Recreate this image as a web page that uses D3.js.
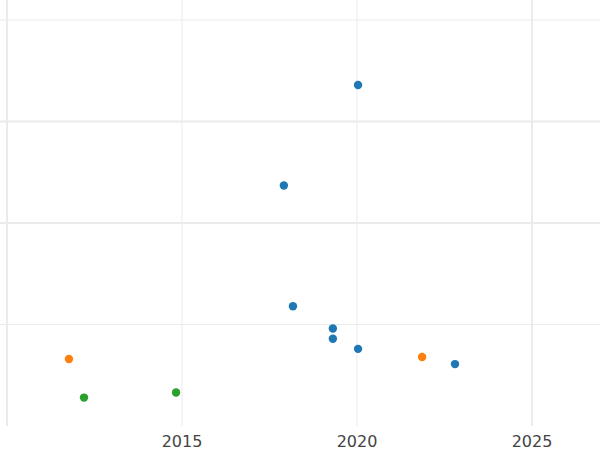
<!DOCTYPE html>
<html><head><meta charset="utf-8">
<script src="https://cdn.jsdelivr.net/npm/d3@7"></script>
<style>body{margin:0;background:#fff}</style>
</head><body>
<svg id="c" width="600" height="450"></svg>
<script>
const years = [2020.03, 2017.91, 2018.17, 2019.31, 2019.31, 2020.03, 2022.8, 2011.77, 2021.86, 2012.2, 2014.83];
const values = [3.36, 2.37, 1.18, 0.96, 0.86, 0.76, 0.61, 0.66, 0.68, 0.28, 0.33];
const groups = ["a","a","a","a","a","a","a","b","b","c","c"];
const xTicks = [2010, 2015, 2020, 2025];
const xLabels = ["", "2015", "2020", "2025"];
const yTicks = [1, 2, 3, 4];
const colors = {a: "#1f77b4", b: "#ff7f0e", c: "#2ca02c"};

const svg = d3.select("#c");
const x = d3.scaleLinear().domain([2010, 2025]).range([7, 532]);
const y = d3.scaleLinear().domain([0, 4]).range([426, 20]);

svg.selectAll("line.h").data(yTicks).join("line")
  .attr("x1", 0).attr("x2", 600)
  .attr("y1", d => y(d)).attr("y2", d => y(d))
  .attr("stroke", "#ebebeb")
  .attr("stroke-width", d => (d === 2 || d === 3) ? 2 : 1);

svg.selectAll("line.v").data(xTicks).join("line")
  .attr("x1", d => x(d)).attr("x2", d => x(d))
  .attr("y1", 0).attr("y2", 426)
  .attr("stroke", "#ebebeb")
  .attr("stroke-width", d => (d === 2010 || d === 2025) ? 2 : 1);

svg.selectAll("text.t").data(xTicks).join("text")
  .attr("x", d => x(d)).attr("y", 447)
  .attr("text-anchor", "middle")
  .attr("font-family", "DejaVu Sans").attr("font-size", 16)
  .attr("fill", "#444")
  .text((d, i) => xLabels[i]);

svg.selectAll("circle").data(years).join("circle")
  .attr("cx", d => x(d))
  .attr("cy", (d, i) => y(values[i]))
  .attr("r", 4.2)
  .attr("fill", (d, i) => colors[groups[i]]);
</script>
</body></html>
